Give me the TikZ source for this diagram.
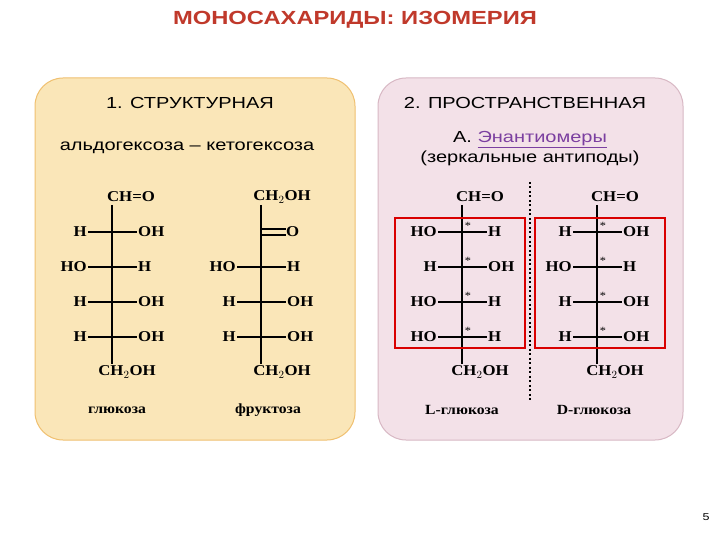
\documentclass[tikz,border=0pt]{standalone}
\usepackage{fontspec}
\setmainfont{Liberation Serif}[FakeStretch=1.12]
\newfontfamily\hd{Liberation Sans}[FakeStretch=1.25]
\usetikzlibrary{calc}
\definecolor{ttl}{HTML}{C0392B}
\definecolor{lfill}{HTML}{FAE6B8}
\definecolor{lbord}{HTML}{F0C070}
\definecolor{rfill}{HTML}{F3E1E8}
\definecolor{rbord}{HTML}{D8B8C4}
\definecolor{lnk}{HTML}{7B3FA0}
\begin{document}
\begin{tikzpicture}[x=1pt,y=-1pt,
  ch/.style={font=\bfseries\fontsize{15}{15}\selectfont,inner sep=1pt},
  hdr/.style={font=\hd\fontsize{16}{20}\selectfont,align=center},
  nm/.style={font=\bfseries\fontsize{14}{14}\selectfont},
  bond/.style={line width=1.5pt},
  st/.style={font=\fontsize{11}{11}\selectfont,inner sep=0pt}]
\useasboundingbox (0,0) rectangle (720,540);
\fill[white] (0,0) rectangle (720,540);
\node[font=\hd\bfseries\fontsize{19}{19}\selectfont,text=ttl] (title) at (355,20) {МОНОСАХАРИДЫ: ИЗОМЕРИЯ};
\draw[lbord,fill=lfill,rounded corners=28pt,line width=1pt] (35,78) rectangle (355,440);
\draw[rbord,fill=rfill,rounded corners=28pt,line width=1pt] (378,78) rectangle (683,440);
\node[hdr] (h1) at (190,103) {1. СТРУКТУРНАЯ};
\node[hdr] (h1b) at (187,148) {альдогексоза – кетогексоза};
\node[hdr] (h2) at (525,103) {2. ПРОСТРАНСТВЕННАЯ};
\node[hdr] (h2b) at (530,149) {А. \textcolor{lnk}{\underline{Энантиомеры}}\\(зеркальные антиподы)};
% glucose
\node[ch] (gt) at (131,197) {CH=O};
\node[ch] (gb) at (127,372) {CH$_2$OH};
\draw[bond] (112,205) -- (112,364);
\foreach \y/\l/\r [count=\i] in {232/H/OH,267/HO/H,302/H/OH,337/H/OH}{
  \node[ch,anchor=east] (gl\i) at (88,\y) {\l};
  \node[ch,anchor=west] (gr\i) at (137,\y) {\r};
  \draw[bond] (gl\i.east) -- (gr\i.west);}
\node[nm] (gn) at (117,410) {глюкоза};
% fructose
\node[ch] (ft) at (282,197) {CH$_2$OH};
\node[ch] (fb) at (282,372) {CH$_2$OH};
\draw[bond] (261,205) -- (261,364);
\node[ch,anchor=west] (fo) at (285,232) {O};
\draw[bond] (261,229) -- (286,229) (261,235) -- (286,235);
\foreach \y/\l/\r [count=\i] in {267/HO/H,302/H/OH,337/H/OH}{
  \node[ch,anchor=east] (fl\i) at (237,\y) {\l};
  \node[ch,anchor=west] (fr\i) at (286,\y) {\r};
  \draw[bond] (fl\i.east) -- (fr\i.west);}
\node[nm] (fn) at (268,410) {фруктоза};
% L-glucose
\node[ch] (lt) at (480,197) {CH=O};
\node[ch] (lb) at (480,372) {CH$_2$OH};
\draw[bond] (462,205) -- (462,364);
\foreach \y/\l/\r [count=\i] in {232/HO/H,267/H/OH,302/HO/H,337/HO/H}{
  \node[ch,anchor=east] (ll\i) at (438,\y) {\l};
  \node[ch,anchor=west] (lr\i) at (487,\y) {\r};
  \draw[bond] (ll\i.east) -- (lr\i.west);
  \node[st] (ls\i) at (468,\y-6) {*};}
\node[nm] (ln) at (462,410) {L-глюкоза};
\draw[red!85!black,line width=2pt] (395,218) rectangle (525,348);
% D-glucose
\node[ch] (dt) at (615,197) {CH=O};
\node[ch] (db) at (615,372) {CH$_2$OH};
\draw[bond] (597,205) -- (597,364);
\foreach \y/\l/\r [count=\i] in {232/H/OH,267/HO/H,302/H/OH,337/H/OH}{
  \node[ch,anchor=east] (dl\i) at (573,\y) {\l};
  \node[ch,anchor=west] (dr\i) at (622,\y) {\r};
  \draw[bond] (dl\i.east) -- (dr\i.west);
  \node[st] (ds\i) at (603,\y-6) {*};}
\node[nm] (dn) at (594,410) {D-глюкоза};
\draw[red!85!black,line width=2pt] (535,218) rectangle (665,348);
\draw[line width=2pt,dash pattern=on 2pt off 2.5pt] (530,182) -- (530,400);
\node[font=\hd\fontsize{10}{10}\selectfont] (pg) at (706,517) {5};
\end{tikzpicture}
\end{document}
